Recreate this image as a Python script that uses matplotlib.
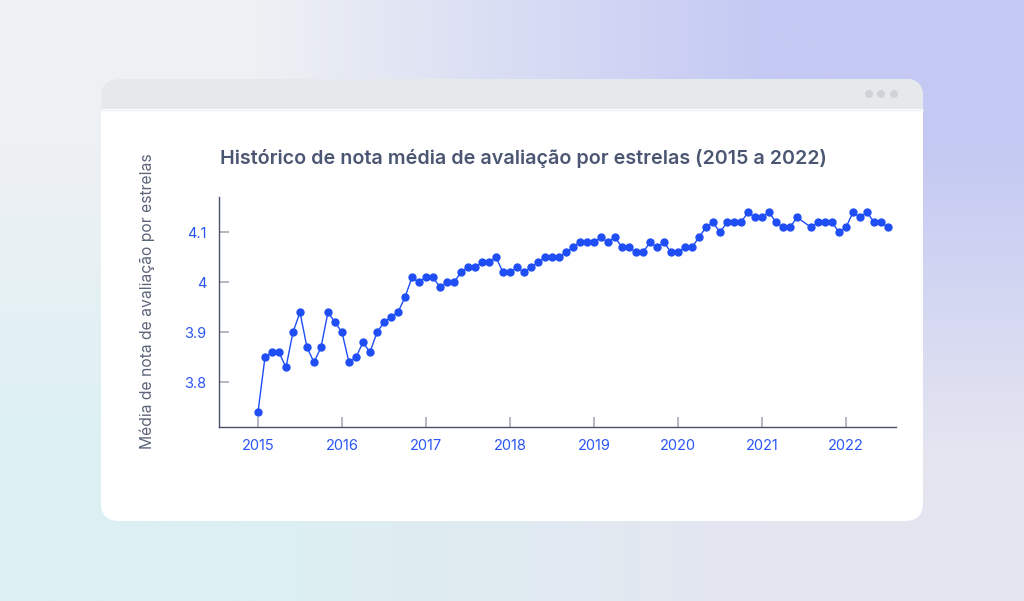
import numpy as np
import pandas as pd
import matplotlib
matplotlib.use("Agg")
import matplotlib.pyplot as plt
from matplotlib.patches import FancyBboxPatch, Rectangle, Circle

plt.rcParams['font.family'] = ['Inter', 'DejaVu Sans']

# monthly star-rating averages, Jan 2015 .. Jul 2022 (Jul 2021 missing)
months = pd.date_range('2015-01-01', '2022-07-01', freq='MS').drop(pd.Timestamp('2021-07-01'))
ratings = [
    3.74, 3.85, 3.86, 3.86, 3.83, 3.90, 3.94, 3.87, 3.84, 3.87, 3.94, 3.92,
    3.90, 3.84, 3.85, 3.88, 3.86, 3.90, 3.92, 3.93, 3.94, 3.97, 4.01, 4.00,
    4.01, 4.01, 3.99, 4.00, 4.00, 4.02, 4.03, 4.03, 4.04, 4.04, 4.05, 4.02,
    4.02, 4.03, 4.02, 4.03, 4.04, 4.05, 4.05, 4.05, 4.06, 4.07, 4.08, 4.08,
    4.08, 4.09, 4.08, 4.09, 4.07, 4.07, 4.06, 4.06, 4.08, 4.07, 4.08, 4.06,
    4.06, 4.07, 4.07, 4.09, 4.11, 4.12, 4.10, 4.12, 4.12, 4.12, 4.14, 4.13,
    4.13, 4.14, 4.12, 4.11, 4.11, 4.13, 4.11, 4.12, 4.12, 4.12, 4.10,
    4.11, 4.14, 4.13, 4.14, 4.12, 4.12, 4.11,
]
year_ticks = [2015, 2016, 2017, 2018, 2019, 2020, 2021, 2022]
y_ticks = [3.8, 3.9, 4.0, 4.1]
y_ticklabels = ['3.8', '3.9', '4', '4.1']

title = 'Histórico de nota média de avaliação por estrelas (2015 a 2022)'
ylabel = 'Média de nota de avaliação por estrelas'

x = months.year + (months.month - 1) / 12

W, H = 1024, 601
fig = plt.figure(figsize=(W / 100, H / 100), dpi=100)

# background gradient + browser-like card
bg = fig.add_axes([0, 0, 1, 1])
bg.set_xlim(0, W)
bg.set_ylim(H, 0)
bg.axis('off')
corners = np.array([[[238, 241, 243], [196, 201, 243]],
                    [[220, 240, 243], [228, 229, 240]]]) / 255
bg.imshow(corners, extent=[0, W, H, 0], interpolation='bilinear', aspect='auto')
bg.add_patch(FancyBboxPatch((101, 79), 822, 442, boxstyle='round,pad=0,rounding_size=18',
                            fc='white', ec='none'))
bg.add_patch(FancyBboxPatch((101, 79), 822, 50, boxstyle='round,pad=0,rounding_size=18',
                            fc='#e6e9ec', ec='none'))
bg.add_patch(Rectangle((101, 109), 822, 25, fc='white', ec='none'))
bg.plot([101, 923], [109.5, 109.5], color='#eef0f2', lw=1)
for cx in [869, 881, 894]:
    bg.add_patch(Circle((cx, 94), 4, fc='#cfd2d6', ec='none'))

# chart
ax = fig.add_axes([219 / W, 1 - 427 / H, (896 - 219) / W, (427 - 197) / H])
ax.set_facecolor('none')
ax.plot(x, ratings, color='#1f4ef5', lw=1, marker='o', ms=5, mec='#1f4ef5', mfc='#1f4ef5')
ax.set_xlim(2014.536, 2022.595)
ax.set_ylim(3.7106, 4.1706)
ax.set_xticks(year_ticks)
ax.set_xticklabels([str(v) for v in year_ticks])
ax.set_yticks(y_ticks)
ax.set_yticklabels(y_ticklabels)
for s in ['top', 'right']:
    ax.spines[s].set_visible(False)
for s in ['left', 'bottom']:
    ax.spines[s].set_color('#4a5068')
    ax.spines[s].set_linewidth(1)
ax.tick_params(direction='in', length=7, width=1.2, color='#a7acb8',
               labelcolor='#2a55f5', labelsize=10.5, pad=9)

fig.text(220 / W, 1 - 158 / H, title, fontsize=14.2, fontweight='semibold',
         color='#4b5672', ha='left', va='center')
fig.text(147 / W, 1 - 301 / H, ylabel, fontsize=11.3, rotation=90,
         color='#5b6479', ha='center', va='center')

fig.savefig('out.png', dpi=100)
